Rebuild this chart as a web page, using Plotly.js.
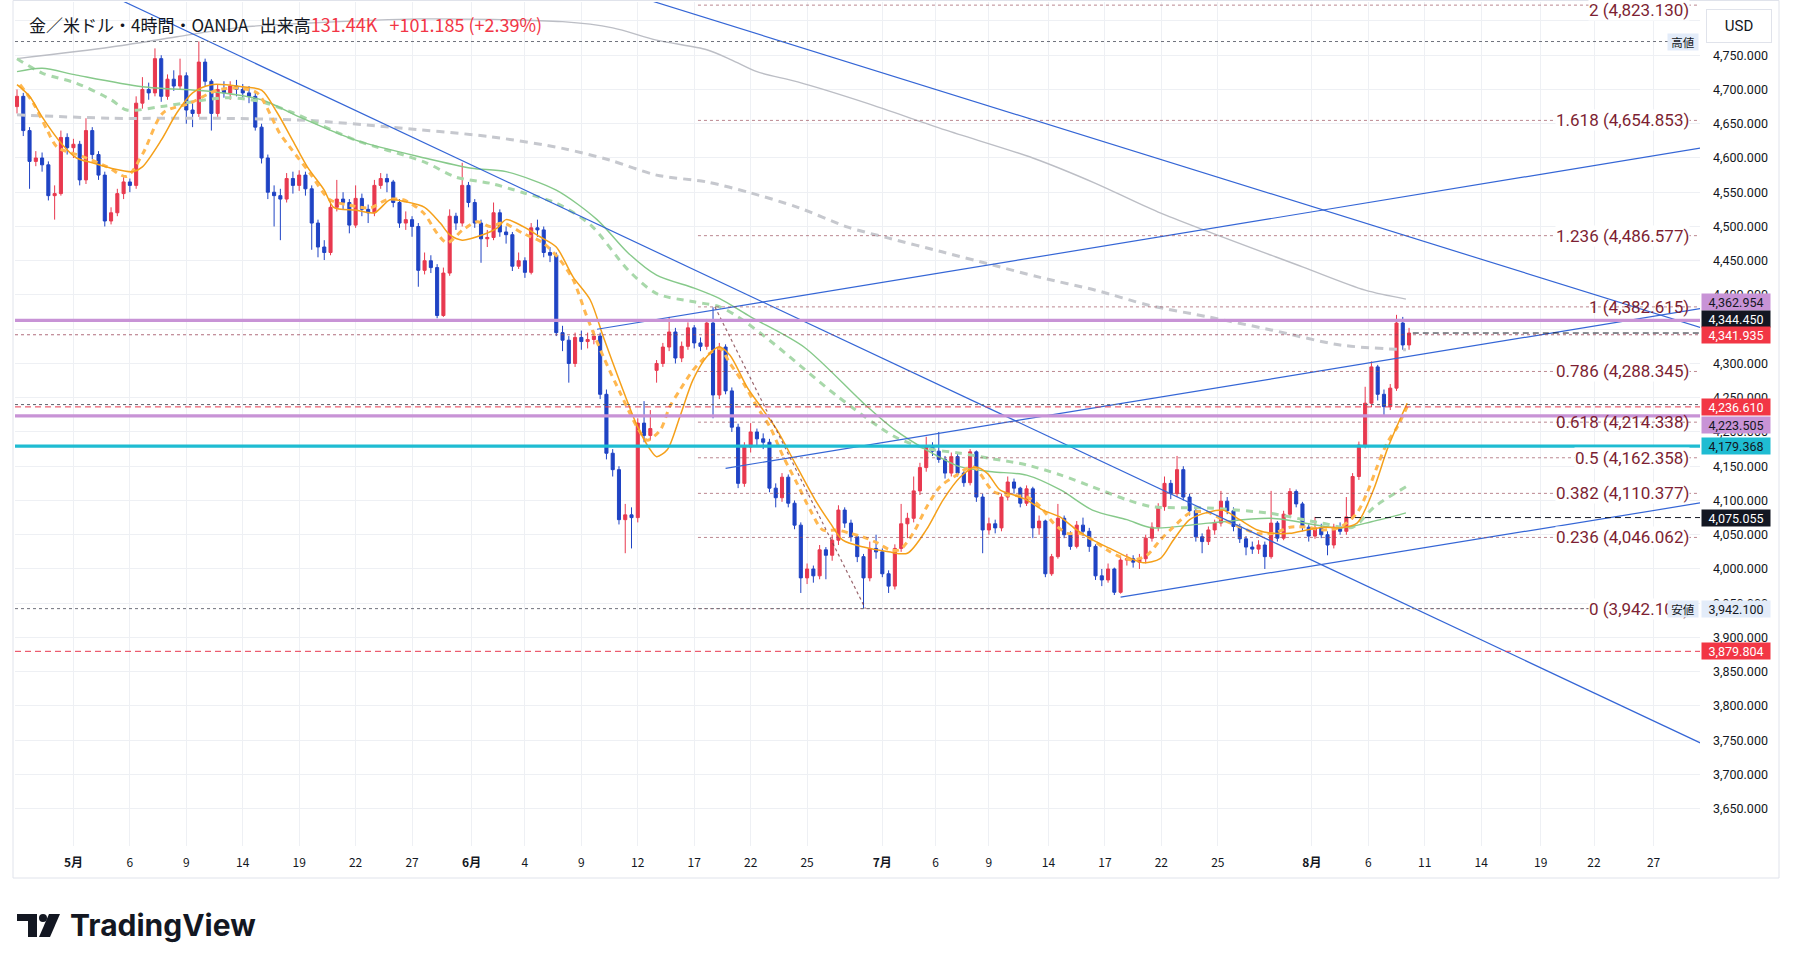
<!DOCTYPE html>
<html><head><meta charset="utf-8">
<script src="https://cdn.plot.ly/plotly-3.0.1.min.js"></script>
<style>html,body{margin:0;padding:0;background:#fff;}#chart{width:1793px;height:967px;}</style>
</head><body><div id="chart"></div>
<script>
// ---------- DATA (8-hour candles, bar index 0..222) ----------
const firstOpen = 4675;
const gapOpens = {102: 4290};
const close = [
4690,4640,4595,4600,4590,4545,4548,4630,4615,4620,
4568,4640,4605,4575,4508,4520,4548,4565,4560,4680,
4700,4695,4745,4690,4715,4705,4720,4670,4665,4740,
4712,4665,4700,4695,4705,4700,4695,4690,4645,4600,
4550,4545,4540,4570,4560,4575,4555,4505,4470,4462,
4528,4540,4535,4502,4541,4525,4520,4560,4570,4565,
4535,4505,4510,4500,4436,4450,4440,4370,4432,4515,
4505,4560,4535,4505,4482,4484,4520,4492,4488,4442,
4450,4433,4498,4495,4462,4458,4345,4334,4300,4338,
4332,4335,4340,4255,4169,4145,4072,4079,4075,4213,
4195,4205,4300,4324,4346,4308,4325,4352,4330,4325,
4359,4254,4324,4260,4207,4125,4178,4200,4190,4185,
4118,4104,4134,4096,4064,3987,4000,3990,4028,4020,
4042,4086,4067,4047,4018,3987,4030,4025,3993,3975,
4030,4066,4074,4114,4148,4178,4172,4160,4140,4164,
4140,4126,4171,4105,4057,4066,4060,4105,4127,4118,
4096,4117,4060,4070,3993,4018,4074,4050,4033,4064,
4055,4033,3990,3984,4000,3966,4013,4015,4010,4015,
4045,4061,4091,4125,4110,4145,4105,4085,4047,4040,
4057,4067,4099,4085,4062,4044,4032,4029,4035,4018,
4067,4045,4080,4113,4095,4061,4048,4060,4050,4035,
4061,4055,4076,4135,4181,4242,4295,4255,4237,4264,
4359,4327,4344.45];
const high = [
4700,4695,4645,4610,4608,4595,4560,4640,4636,4628,
4625,4658,4645,4610,4580,4528,4555,4572,4570,4690,
4718,4710,4760,4750,4722,4728,4745,4725,4680,4770,
4745,4715,4708,4712,4712,4714,4708,4705,4695,4650,
4605,4560,4555,4578,4580,4582,4580,4560,4510,4480,
4538,4568,4550,4540,4560,4548,4532,4568,4578,4577,
4568,4540,4522,4515,4505,4462,4458,4445,4440,4525,
4520,4593,4565,4540,4510,4495,4535,4525,4500,4492,
4462,4455,4505,4510,4500,4470,4462,4355,4340,4345,
4348,4345,4348,4345,4262,4175,4150,4095,4090,4220,
4245,4232,4305,4330,4368,4352,4332,4360,4356,4338,
4365,4382,4330,4328,4265,4212,4185,4213,4205,4198,
4190,4125,4140,4138,4100,4068,4008,4005,4035,4032,
4050,4093,4090,4072,4050,4022,4040,4050,4030,3998,
4036,4095,4082,4135,4155,4193,4185,4200,4165,4170,
4168,4145,4175,4173,4110,4075,4072,4110,4135,4132,
4120,4122,4120,4078,4072,4022,4095,4078,4055,4070,
4075,4060,4036,4000,4008,4002,4018,4022,4020,4022,
4050,4068,4096,4135,4130,4165,4150,4110,4090,4052,
4062,4072,4114,4105,4090,4066,4048,4040,4042,4040,
4114,4070,4085,4118,4116,4098,4065,4076,4066,4055,
4066,4068,4105,4140,4186,4266,4303,4298,4262,4270,
4371,4368,4352];
const low = [
4665,4632,4555,4588,4580,4538,4510,4545,4605,4600,
4560,4562,4598,4568,4500,4503,4515,4540,4550,4555,
4672,4685,4690,4682,4685,4698,4700,4650,4645,4660,
4705,4640,4660,4688,4685,4690,4685,4680,4640,4592,
4540,4500,4480,4535,4548,4552,4545,4466,4455,4451,
4458,4522,4525,4490,4498,4515,4505,4515,4555,4550,
4528,4498,4495,4485,4412,4430,4432,4366,4368,4428,
4495,4500,4528,4498,4447,4470,4480,4485,4475,4435,
4438,4425,4430,4485,4455,4448,4340,4318,4272,4295,
4320,4322,4328,4248,4160,4135,4065,4023,4030,4068,
4185,4188,4272,4295,4318,4300,4302,4320,4322,4318,
4320,4220,4248,4255,4200,4118,4120,4170,4178,4175,
4112,4090,4098,4090,4058,3965,3978,3980,3985,3985,
4012,4035,4060,4040,4010,3942.1,3982,4015,3988,3965,
3970,4025,4045,4068,4108,4142,4165,4155,4132,4135,
4135,4120,4122,4098,4023,4050,4052,4055,4100,4110,
4090,4092,4045,4050,3988,3990,4015,4045,4028,4030,
4048,4025,3984,3975,3980,3962,3964,4005,4002,4000,
4008,4040,4055,4085,4102,4105,4100,4078,4040,4023,
4035,4050,4062,4080,4055,4038,4020,4022,4022,4000,
4015,4040,4042,4075,4090,4055,4040,4044,4045,4020,
4030,4050,4050,4072,4130,4176,4236,4246,4222,4232,
4260,4320,4320];

// moving averages read at sample points: [bar index, price]
const maGraySolid = [[0,4745],[15,4762],[25.5,4777],[36,4791],[46.7,4797],[64,4803],[87,4799],[95,4790],[102,4772],[110,4758],[114,4743],[118,4726],[124.5,4711],[135.5,4680],[148,4641],[162,4600],[172,4563],[182,4521],[205,4441],[215,4407],[221.5,4394]];
const maGrayDash = [[0,4663],[15,4658],[31,4658],[46,4655],[59.5,4645],[75.5,4631],[87,4614],[94.5,4597],[102,4575],[110,4565],[117,4549],[124.5,4528],[132.5,4499],[139,4483],[147.5,4463],[155.5,4444],[163,4426],[172,4407],[180.5,4385],[190,4368],[200,4349],[211,4327],[221.5,4320]];
const maGreenSolid = [[0,4726],[4,4731],[9.5,4721],[20,4704],[31,4697],[39,4685],[45,4660],[54,4626],[65,4600],[72.5,4585],[78,4580],[86,4553],[92.5,4510],[97.5,4461],[102,4429],[108,4410],[112,4395],[117,4368],[125.5,4324],[135,4242],[140,4203],[145,4174],[150.5,4149],[155.5,4142],[161,4137],[166.5,4115],[171.5,4086],[177,4072],[181,4060],[190,4067],[200,4074],[211,4060],[216,4069],[221.5,4082]];
const maGreenDash = [[0,4745],[4,4724],[9.5,4709],[15,4685],[17.5,4670],[23,4675],[28,4682],[33.5,4688],[39,4682],[44,4666],[54,4626],[65,4594],[70,4572],[75.5,4563],[80.5,4550],[86,4534],[91.5,4502],[97.5,4436],[102,4402],[108,4390],[112,4383],[115,4368],[120,4334],[131,4251],[140,4193],[145,4176],[150.5,4169],[155.5,4161],[161,4152],[166.5,4137],[171.5,4120],[177,4101],[181,4091],[190,4089],[200,4081],[208,4067],[213,4061],[216.5,4091],[221.5,4120]];
const maOrangeSolid = [[0,4707],[2,4690],[4,4660],[7,4622],[9.5,4600],[12,4593],[15,4585],[18.5,4580],[20,4587],[23,4626],[25.5,4666],[28,4695],[31,4707],[36,4704],[39,4699],[41.5,4666],[44,4625],[46.3,4587],[49,4553],[50.5,4528],[54,4524],[57,4520],[59.5,4539],[62,4536],[65,4528],[67.5,4505],[69,4488],[71,4480],[74.3,4488],[76.6,4498],[78,4510],[80.7,4500],[83.4,4485],[86,4470],[88.7,4426],[91.4,4393],[93.5,4339],[96.2,4272],[99,4207],[101,4174],[102,4164],[103.7,4174],[105.7,4222],[107.8,4276],[110,4310],[112,4324],[113.7,4312],[116.4,4266],[119,4232],[121.2,4203],[124.4,4149],[127.6,4096],[129.7,4067],[131.7,4042],[135,4032],[139,4025],[142,4023],[145,4057],[147.7,4101],[150.4,4134],[152.8,4149],[154.7,4140],[156.8,4115],[159,4108],[161,4101],[163.6,4086],[166.3,4076],[169,4057],[171.6,4042],[174.3,4030],[177,4018],[179.6,4009],[182.3,4015],[184.4,4042],[187,4072],[190,4083],[192.3,4086],[195,4072],[197.8,4057],[200.3,4052],[203,4052],[205.7,4057],[208.3,4061],[211,4060],[213.7,4067],[216.3,4115],[218.5,4174],[220,4207],[221.7,4242]];
const maOrangeDash = [[0.5,4707],[2.6,4680],[4.8,4641],[6.4,4616],[10.5,4602],[14.4,4587],[17.5,4573],[20.1,4607],[23.3,4666],[27.6,4680],[31.9,4699],[35.1,4702],[38.3,4695],[41.9,4636],[43.5,4616],[46.7,4578],[49.9,4539],[53.1,4531],[56.3,4527],[59,4539],[61.6,4539],[64.8,4520],[67,4490],[68.6,4476],[71.1,4495],[73.4,4507],[75.4,4500],[77.5,4505],[80.7,4490],[83.9,4476],[86.6,4451],[88.7,4422],[90.9,4368],[93.5,4310],[96.2,4257],[98.9,4207],[100.5,4188],[102.6,4203],[104.1,4237],[105.7,4261],[107.8,4290],[110.5,4315],[112.1,4322],[113.7,4300],[115.8,4272],[118,4237],[120.1,4207],[122.2,4164],[124.4,4125],[126.5,4086],[128.5,4057],[130.8,4057],[132.9,4052],[134.9,4047],[137.2,4038],[139.2,4028],[140.8,4028],[142.9,4052],[145.1,4091],[147.2,4120],[149.3,4134],[152.5,4149],[155.7,4113],[157.9,4108],[161.1,4105],[163.2,4091],[165.3,4067],[167.5,4052],[169.5,4052],[171.6,4042],[173.8,4028],[175.9,4018],[178,4013],[180.2,4020],[182.3,4042],[184.4,4061],[187.1,4082],[189.8,4083],[192.3,4072],[195.1,4061],[197.8,4052],[200.3,4052],[203,4061],[205.7,4061],[208.3,4057],[211,4061],[213.7,4082],[215.3,4111],[216.9,4149],[218.5,4184],[220.1,4207],[221.7,4237]];

// drawn trend lines [x0, y0, x1, y1] in bar index / price
const trendLines = [[16.5,4830.7,269.5,3741.6],[100.7,4830.7,269.5,4349.6],[92.5,4350,269.5,4616],[113,4147,269.5,4381.6],[176,3959,269.5,4098]];
const fibDiagonal = [111.3,4382.615,135.3,3942.1];

// fibonacci levels
const fibRatios = ['2','1.618','1.236','1','0.786','0.618','0.5','0.382','0.236','0'];
const fibPrices = [4823.130,4654.853,4486.577,4382.615,4288.345,4214.338,4162.358,4110.377,4046.062,3942.100];
const fibStart = 108.6;

// horizontal levels
const highPrice = 4770, lowPrice = 3942.1;
const purpleLevels = [4362.954, 4223.505];
const cyanLevel = 4179.368;
const redDashLevels = [4236.610, 3879.804];
const dottedRedLevel = 4341.935;
const dottedDarkLevel = 4240;
const lastPrice = 4344.45;
const pivotLevel = 4075.055, pivotStart = 207;

// price-axis badges
const badgeVals = [4362.954,4344.450,4341.935,4236.610,4223.505,4179.368,4075.055,3942.100,3879.804];
const badgeKinds = ['purple','black','red','red','purple','cyan','black','low','red'];

// axis ticks
const xTickIdx = [9,18,27,36,45,54,63,72.5,81,90,99,108,117,126,138,146.5,155,164.5,173.5,182.5,191.5,206.5,215.5,224.5,233.5,243,251.5,261];
const xTickText = ['5月','6','9','14','19','22','27','6月','4','9','12','17','22','25','7月','6','9','14','17','22','25','8月','6','11','14','19','22','27'];
const priceTicks = [3650,3700,3750,3800,3850,3900,3950,4000,4050,4100,4150,4200,4250,4300,4350,4400,4450,4500,4550,4600,4650,4700,4750,4800];
const hiddenPriceLabels = [4350,4800];

// ---------- BUILD ----------
const W=1793,H=967,ML=15,MR=93,MT=2,MB=121;
const PW=W-ML-MR, PH=H-MT-MB;
const px = v => (v-ML)/PW;
const py = v => 1-(v-MT)/PH;
const xRange=[-0.32,268.4], yRange=[3595.6,4827.7];

const idx = close.map((_,i)=>i);
const open = close.map((_,i)=> gapOpens[i]!==undefined ? gapOpens[i] : (i===0 ? firstOpen : close[i-1]));
const fmt = v => v.toLocaleString('en-US',{minimumFractionDigits:3,maximumFractionDigits:3});

const UP='#e8394f', DN='#1f43c4';
const traces = [];
function maTrace(pairs, color, width, dash){
  return {type:'scatter', mode:'lines', x:pairs.map(p=>p[0]), y:pairs.map(p=>p[1]),
    line:{color, width, dash, shape:'spline', smoothing:0.8}, hoverinfo:'skip', showlegend:false};
}
traces.push(maTrace(maGrayDash,'#c6c8ce',3,'8px,6px'));
traces.push(maTrace(maGraySolid,'#bcbec5',1.4,'solid'));
traces.push(maTrace(maGreenDash,'#a8d8aa',3,'7px,6px'));
traces.push(maTrace(maGreenSolid,'#86c98a',1.4,'solid'));
traces.push({type:'candlestick', x:idx, open, high, low, close,
  increasing:{line:{color:UP,width:1}, fillcolor:UP},
  decreasing:{line:{color:DN,width:1}, fillcolor:DN},
  whiskerwidth:0, hoverinfo:'skip', showlegend:false});
traces.push(maTrace(maOrangeDash,'#ffb851',3,'6px,5px'));
traces.push(maTrace(maOrangeSolid,'#f5a01a',1.5,'solid'));
trendLines.forEach(t=>traces.push({type:'scatter',mode:'lines',x:[t[0],t[2]],y:[t[1],t[3]],
  line:{color:'#3566d6',width:1.2},hoverinfo:'skip',showlegend:false}));
traces.push({type:'scatter',mode:'lines',x:[fibDiagonal[0],fibDiagonal[2]],y:[fibDiagonal[1],fibDiagonal[3]],
  line:{color:'rgba(120,50,60,0.75)',width:1.2,dash:'dot'},hoverinfo:'skip',showlegend:false});

const shapes = [];
function hline(y,x0,color,dash,width){
  shapes.push({type:'line',xref:'x',yref:'y',x0,x1:xRange[1],y0:y,y1:y,line:{color,dash,width},layer:'above'});
}
shapes.push({type:'rect',xref:'paper',yref:'paper',x0:px(13),x1:px(1779),y0:py(0.5),y1:py(878),
  line:{color:'#e0e3eb',width:1},fillcolor:'rgba(0,0,0,0)',layer:'below'});
fibPrices.forEach(p=>hline(p,fibStart,'rgba(150,70,85,0.65)','dot',1));
hline(highPrice,xRange[0],'#6f727c','dot',1);
hline(lowPrice,xRange[0],'#6f727c','dot',1);
hline(dottedRedLevel,xRange[0],'rgba(150,60,80,0.75)','dot',1);
hline(dottedDarkLevel,xRange[0],'#5d606b','dot',1);
redDashLevels.forEach(p=>hline(p,xRange[0],'#e8384f','6px,4px',1));
purpleLevels.forEach(p=>hline(p,xRange[0],'#c893d6','solid',3.2));
hline(cyanLevel,xRange[0],'#1fbcd2','solid',3.2);
hline(pivotLevel,pivotStart,'#131722','6px,4px',1);
hline(lastPrice,222.6,'#131722','6px,4px',1);

// TradingView logo mark
shapes.push({type:'rect',xref:'paper',yref:'paper',x0:px(17),x1:px(37),y0:py(914),y1:py(921),fillcolor:'#131722',line:{width:0}});
shapes.push({type:'rect',xref:'paper',yref:'paper',x0:px(28),x1:px(37),y0:py(914),y1:py(937),fillcolor:'#131722',line:{width:0}});
shapes.push({type:'circle',xref:'paper',yref:'paper',x0:px(39),x1:px(47),y0:py(914),y1:py(922),fillcolor:'#131722',line:{width:0}});
shapes.push({type:'path',xref:'paper',yref:'paper',
  path:`M ${px(49)} ${py(914)} L ${px(60)} ${py(914)} L ${px(50)} ${py(937)} L ${px(39)} ${py(937)} Z`,
  fillcolor:'#131722',line:{width:0}});

const FONT = 'Roboto, "Noto Sans", sans-serif';
const JFONT = '"Noto Sans CJK JP", "Noto Sans", sans-serif';
const annotations = [];
const RED='#f23645';
const SP='\u00a0\u00a0\u00a0';
annotations.push({xref:'paper',yref:'paper',x:px(27),y:py(24),xanchor:'left',yanchor:'middle',showarrow:false,
  text:'金／米ドル・4時間・OANDA'+SP+'出来高<span style="color:'+RED+';font-size:18px">131.44K'+SP+'+101.185 (+2.39%)</span>',
  font:{family:JFONT,size:17,color:'#131722'}});
fibRatios.forEach((r,i)=>{
  const noBg = (r==='1'||r==='0.618');
  annotations.push({xref:'paper',yref:'y',x:px(1690),y:fibPrices[i],yshift:(i===0?-5:0),xanchor:'right',yanchor:'middle',showarrow:false,
    text:r+' ('+fmt(fibPrices[i])+')',font:{family:FONT,size:17,color:'#7d1f33'},
    bgcolor: noBg ? 'rgba(0,0,0,0)' : '#ffffff', borderpad:0});
});
const badgeStyle = {purple:['#c893d6','#131722'],black:['#131722','#ffffff'],red:['#f23645','#ffffff'],cyan:['#1fbcd2','#131722'],low:['#e3ecf9','#131722']};
const badgeShift = [18,14,0,0,-9,0,0,0,0];
badgeVals.forEach((v,i)=>{
  const st = badgeStyle[badgeKinds[i]];
  annotations.push({xref:'paper',yref:'y',x:1,xshift:1,y:v,yshift:badgeShift[i],xanchor:'left',yanchor:'middle',showarrow:false,
    text:fmt(v),font:{family:FONT,size:12.5,color:st[1]},bgcolor:st[0],width:66,height:14,borderpad:1,align:'center'});
});
[['高値',highPrice],['安値',lowPrice]].forEach(a=>{
  annotations.push({xref:'paper',yref:'y',x:1,xshift:-1,y:a[1],xanchor:'right',yanchor:'middle',showarrow:false,
    text:a[0],font:{family:JFONT,size:11.5,color:'#131722'},bgcolor:'#e3ecf9',width:28,height:14,borderpad:1});
});
annotations.push({xref:'paper',yref:'paper',x:px(1739),y:py(26),xanchor:'center',yanchor:'middle',showarrow:false,
  text:'USD',font:{family:FONT,size:15,color:'#131722'},bgcolor:'#ffffff',bordercolor:'#e0e3eb',borderwidth:1,width:62,height:30,borderpad:1});
annotations.push({xref:'paper',yref:'paper',x:px(68),y:py(925),xanchor:'left',yanchor:'middle',showarrow:false,
  text:'<b>TradingView</b>',font:{family:'Inter, Roboto, sans-serif',size:30,color:'#131722'}});

const tickText = xTickText.map(t=> t.indexOf('月')>=0 ? '<b>'+t+'</b>' : t);
const priceTickText = priceTicks.map(v=> hiddenPriceLabels.indexOf(v)>=0 ? '' : fmt(v));

const layout = {
  width:W,height:H,margin:{l:ML,r:MR,t:MT,b:MB,pad:0},
  paper_bgcolor:'#ffffff',plot_bgcolor:'#ffffff',
  showlegend:false,hovermode:false,
  xaxis:{type:'linear',range:xRange,tickmode:'array',tickvals:xTickIdx,ticktext:tickText,
    showgrid:true,gridcolor:'#eef0f4',gridwidth:1,zeroline:false,showline:false,ticks:'',
    ticklabelstandoff:8,tickfont:{family:JFONT,size:12,color:'#131722'},rangeslider:{visible:false},fixedrange:true},
  yaxis:{side:'right',range:yRange,tickmode:'array',tickvals:priceTicks,ticktext:priceTickText,
    showgrid:true,gridcolor:'#eef0f4',gridwidth:1,zeroline:false,showline:false,ticks:'',
    ticklabelstandoff:12,tickfont:{family:FONT,size:12.5,color:'#131722'},fixedrange:true},
  shapes,annotations
};
Plotly.newPlot('chart',traces,layout,{staticPlot:true,displayModeBar:false});
</script></body></html>
